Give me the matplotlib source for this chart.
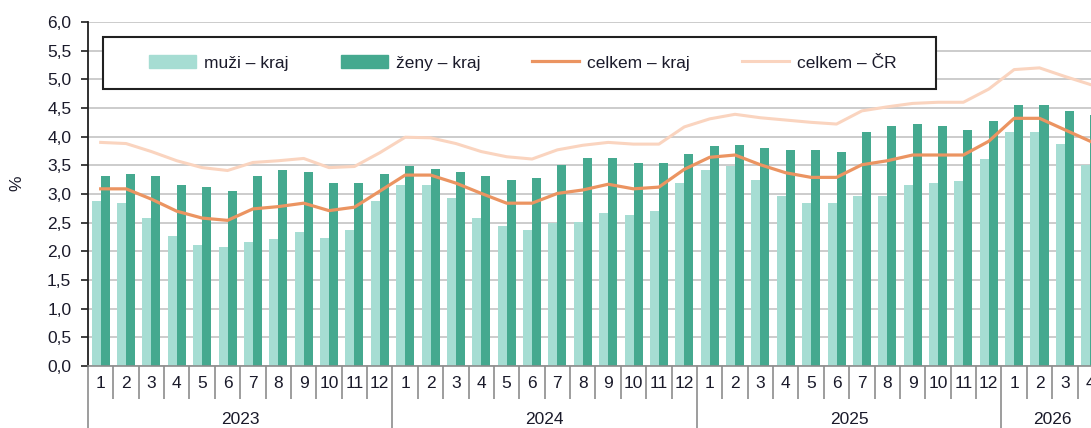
import numpy as np
import matplotlib
matplotlib.use("Agg")
import matplotlib.pyplot as plt
from matplotlib.patches import Rectangle, Patch
from matplotlib.lines import Line2D
from matplotlib.transforms import blended_transform_factory

plt.rcParams['font.family'] = ['Liberation Sans', 'DejaVu Sans']
plt.rcParams['font.size'] = 12.5

# monthly values, 2023-01 .. 2026-04
years = ["2023", "2024", "2025", "2026"]
months_per_year = [12, 12, 12, 4]
month_labels = [str(m) for n in months_per_year for m in range(1, n + 1)]

muzi_kraj = [2.87, 2.84, 2.59, 2.27, 2.11, 2.08, 2.17, 2.21, 2.33, 2.24, 2.37, 2.87,
             3.15, 3.15, 2.93, 2.58, 2.45, 2.38, 2.50, 2.51, 2.67, 2.64, 2.70, 3.19,
             3.41, 3.49, 3.25, 2.97, 2.84, 2.84, 2.97, 2.97, 3.16, 3.19, 3.22, 3.61,
             4.09, 4.09, 3.87, 3.51]
zeny_kraj = [3.32, 3.35, 3.32, 3.16, 3.12, 3.06, 3.32, 3.41, 3.38, 3.19, 3.19, 3.35,
             3.48, 3.44, 3.38, 3.32, 3.25, 3.28, 3.51, 3.63, 3.63, 3.54, 3.54, 3.70,
             3.83, 3.86, 3.80, 3.76, 3.76, 3.73, 4.09, 4.18, 4.22, 4.18, 4.12, 4.28,
             4.56, 4.56, 4.44, 4.38]
celkem_kraj = [3.09, 3.09, 2.91, 2.70, 2.58, 2.54, 2.74, 2.78, 2.84, 2.71, 2.77, 3.05,
               3.33, 3.33, 3.19, 3.01, 2.84, 2.84, 3.01, 3.07, 3.17, 3.09, 3.12, 3.43,
               3.64, 3.68, 3.51, 3.37, 3.29, 3.29, 3.51, 3.58, 3.68, 3.68, 3.68, 3.92,
               4.32, 4.32, 4.12, 3.92]
celkem_cr = [3.90, 3.88, 3.74, 3.58, 3.46, 3.41, 3.55, 3.58, 3.62, 3.46, 3.48, 3.72,
             3.99, 3.98, 3.88, 3.74, 3.65, 3.61, 3.77, 3.85, 3.90, 3.87, 3.87, 4.17,
             4.31, 4.39, 4.33, 4.29, 4.25, 4.22, 4.45, 4.52, 4.58, 4.60, 4.60, 4.83,
             5.17, 5.20, 5.05, 4.91]

c_light = "#a6ddd3"
c_dark = "#45a98f"
c_kraj = "#eb9461"
c_cr = "#fad4bf"
c_grid = "#c4c4c4"
c_sep = "#8c8c8c"
c_text = "#1a1a2a"

fig = plt.figure(figsize=(10.91, 4.28), dpi=100)
ax = fig.add_axes([88 / 1091, 62 / 428, 1 - 88 / 1091, 344 / 428])

x = np.arange(len(muzi_kraj))
w = 0.355
ax.bar(x - w / 2, muzi_kraj, w, color=c_light, zorder=2)
ax.bar(x + w / 2, zeny_kraj, w, color=c_dark, zorder=2)
ax.plot(x, celkem_cr, color=c_cr, lw=2.2, zorder=3)
ax.plot(x, celkem_kraj, color=c_kraj, lw=2.3, zorder=4)

ax.set_xlim(-0.5, 39.03)
ax.set_ylim(0, 6)
ax.set_yticks(np.arange(0, 6.01, 0.5))
ax.set_yticklabels([f"{v:.1f}".replace(".", ",") for v in np.arange(0, 6.01, 0.5)],
                   color=c_text)
ax.tick_params(axis='y', length=5, width=1.2, pad=7, color="#202020")
ax.grid(axis='y', color=c_grid, lw=1.2, zorder=0)
ax.set_axisbelow(True)

for s in ["top", "right"]:
    ax.spines[s].set_visible(False)
ax.spines["left"].set_color("#202020")
ax.spines["left"].set_linewidth(1.3)
ax.spines["bottom"].set_color(c_sep)
ax.spines["bottom"].set_linewidth(1.2)

# two-level category axis: month separators (minor) and year separators (major)
bounds = np.arange(len(month_labels)) - 0.5
year_bounds = np.cumsum([0] + months_per_year[:-1]) - 0.5
ax.set_xticks(year_bounds)
ax.set_xticklabels([])
ax.set_xticks(bounds, minor=True)
ax.tick_params(axis='x', which='major', length=44.6, width=1.2, color=c_sep)
ax.tick_params(axis='x', which='minor', length=23.5, width=1.2, color=c_sep)

trans = blended_transform_factory(ax.transData, ax.transAxes)
for i, lab in enumerate(month_labels):
    ax.text(i, -18 / 344, lab, transform=trans, ha='center', va='center',
            color=c_text, clip_on=False)
start = 0
for yr, n in zip(years, months_per_year):
    ax.text(start + (n - 1) / 2, -53 / 344, yr, transform=trans, ha='center',
            va='center', color=c_text, clip_on=False)
    start += n

fig.text(17 / 1091, 1 - 183 / 428, "%", rotation=90, ha='center', va='center',
         color=c_text)

# legend box
box = Rectangle((103 / 1091, 1 - 89 / 428), 833 / 1091, 52 / 428,
                transform=fig.transFigure, facecolor="white", edgecolor="#202020",
                lw=1.5, zorder=5)
fig.add_artist(box)
handles = [Patch(color=c_light), Patch(color=c_dark),
           Line2D([], [], color=c_kraj, lw=2.3), Line2D([], [], color=c_cr, lw=2.2)]
labels = ["muži – kraj", "ženy – kraj", "celkem – kraj", "celkem – ČR"]
leg = fig.legend(handles, labels, loc='center', bbox_to_anchor=(523 / 1091, 1 - 63 / 428),
                 bbox_transform=fig.transFigure, ncol=4, frameon=False,
                 handlelength=2.7, handletextpad=0.46, columnspacing=3.0)
leg.set_zorder(6)
for t in leg.get_texts():
    t.set_color(c_text)

fig.savefig("out.png", dpi=100)
